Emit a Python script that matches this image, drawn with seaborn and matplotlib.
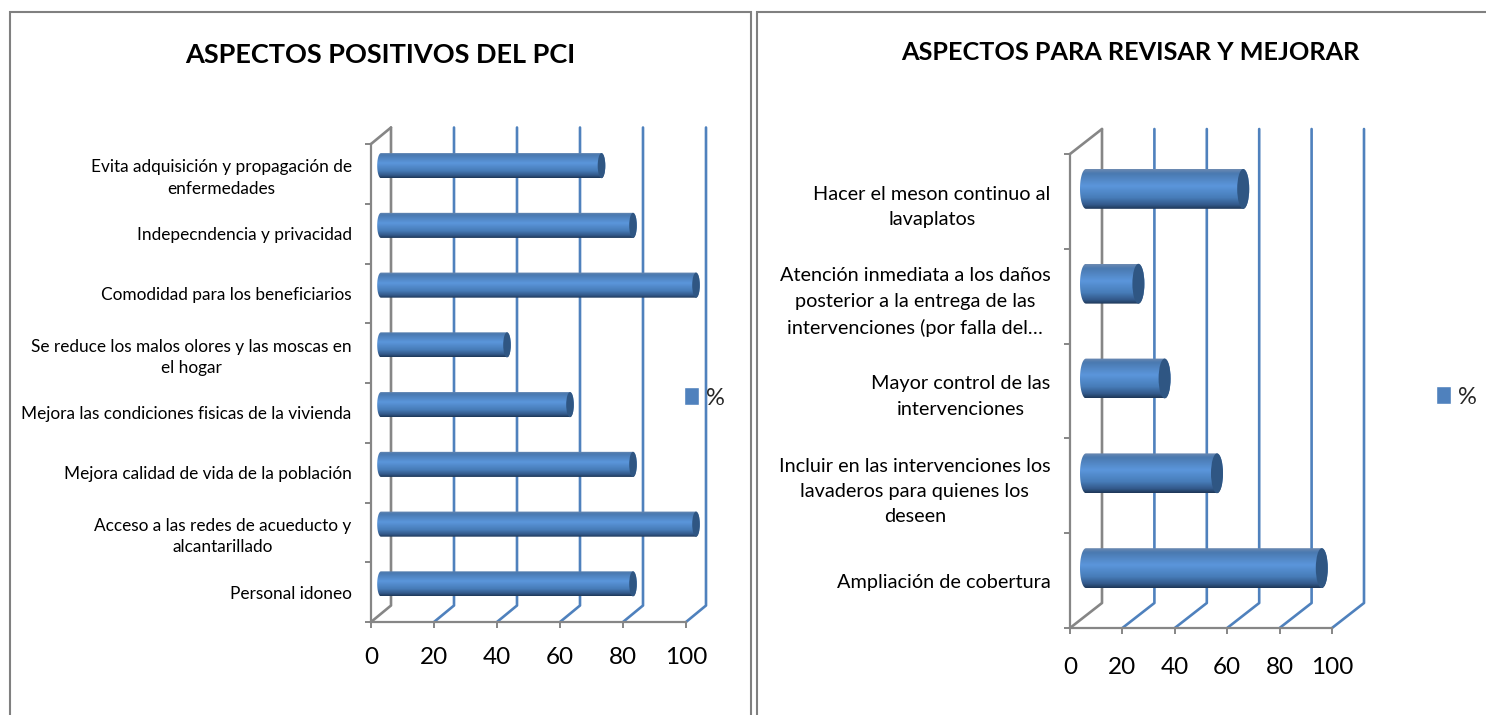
import numpy as np
import matplotlib
matplotlib.use("Agg")
import matplotlib.pyplot as plt
import seaborn as sns
from matplotlib.colors import LinearSegmentedColormap
from matplotlib.patches import Ellipse, Rectangle
from matplotlib.path import Path
from matplotlib.lines import Line2D
from matplotlib.transforms import Affine2D, IdentityTransform

left_title = "ASPECTOS POSITIVOS DEL PCI"
left_categories = [
    "Evita adquisición y propagación de\nenfermedades",
    "Indepecndencia y privacidad",
    "Comodidad para los beneficiarios",
    "Se reduce los malos olores y las moscas en\nel hogar",
    "Mejora las condiciones fisicas de la vivienda",
    "Mejora calidad de vida de la población",
    "Acceso a las redes de acueducto y\nalcantarillado",
    "Personal idoneo",
]
left_values = [70, 80, 100, 40, 60, 80, 100, 80]

right_title = "ASPECTOS PARA REVISAR Y MEJORAR"
right_categories = [
    "Hacer el meson continuo al\nlavaplatos",
    "Atención inmediata a los daños\nposterior a la entrega de las\nintervenciones (por falla del…",
    "Mayor control de las\nintervenciones",
    "Incluir en las intervenciones los\nlavaderos para quienes los\ndeseen",
    "Ampliación de cobertura",
]
right_values = [60, 20, 30, 50, 90]
x_ticks = [0, 20, 40, 60, 80, 100]
series_name = "%"

W, H = 1486, 715
BLUE = "#4F81BD"
GREY = "#868686"
DARK = "#2F5683"
sns.set_theme(style="white")
plt.rcParams["font.family"] = ["Lato", "DejaVu Sans"]
fig = plt.figure(figsize=(W / 100, H / 100), dpi=100, facecolor="white")

cyl = LinearSegmentedColormap.from_list(
    "cyl",
    [(0, "#6C8AB2"), (0.1, "#4A79B0"), (0.42, "#5B96DB"), (0.72, "#477CB8"),
     (0.9, "#33598A"), (1, "#1E3859")],
)


def panel(box, cats, vals, title, title_xy, title_size, label_size, depth, cap,
          legend_xy, pad, line_gap, tick_pad):
    x0, y0, x1, y1 = box
    ax = fig.add_axes([x0 / W, 1 - y1 / H, (x1 - x0) / W, (y1 - y0) / H])
    ax.set_zorder(3)
    sns.barplot(x=vals, y=cats, orient="h", color=BLUE, saturation=1, width=0.42,
                ax=ax, label=series_name, zorder=5)
    n = len(cats)
    ax.set_xlim(0, 100)
    ax.set_ylim(n - 0.5, -0.5)
    ax.set_xlabel("")
    ax.set_ylabel("")
    ax.patch.set_alpha(0)

    # legend is taken from the bars before they are replaced by cylinders
    ax.legend(loc="center left", bbox_to_anchor=(legend_xy[0] / W, 1 - legend_xy[1] / H),
              bbox_transform=fig.transFigure, frameon=False, fontsize=17,
              handlelength=0.62, handleheight=0.8, handletextpad=0.3,
              borderpad=0, borderaxespad=0)

    for s in ("top", "right"):
        ax.spines[s].set_visible(False)
    for s in ("left", "bottom"):
        ax.spines[s].set_color(GREY)
        ax.spines[s].set_linewidth(1.6)

    ax.set_xticks(x_ticks)
    ax.tick_params(axis="x", length=4, width=1.4, color=GREY, labelsize=17.5, pad=tick_pad,
                   labelcolor="black", bottom=True)
    ax.set_yticks(range(n), cats)
    ax.tick_params(axis="y", which="major", length=0, pad=pad, labelsize=label_size,
                   labelcolor="black")
    for t in ax.get_yticklabels():
        t.set_multialignment("center")
        t.set_linespacing(line_gap)
    ax.set_yticks(np.arange(n + 1) - 0.5, minor=True)
    ax.tick_params(axis="y", which="minor", length=4, width=1.4, color=GREY, left=True)

    # back wall: gridlines shifted by the chart's depth, joined to the floor
    dx, dy = depth
    for v in x_ticks:
        color = GREY if v == 0 else BLUE
        fx, fy = ax.transData.transform((v, n - 0.5))
        _, ty = ax.transData.transform((v, -0.5))
        fig.add_artist(Line2D([fx, fx + dx, fx + dx], [fy, fy + dy, ty + dy],
                              transform=IdentityTransform(), color=color, lw=1.9, zorder=1))
    fx, fy = ax.transData.transform((0, -0.5))
    fig.add_artist(Line2D([fx, fx + dx], [fy, fy + dy], transform=IdentityTransform(),
                          color=GREY, lw=1.9, zorder=1))

    # cylinders built from the bars seaborn placed
    shift = ax.transData + Affine2D().translate(dx / 2, dy / 2)
    units = (x1 - x0) / 100
    capx = cap / units
    grad = np.linspace(0, 1, 64).reshape(-1, 1)
    for p in list(ax.patches):
        b0, b1 = p.get_x(), p.get_x() + p.get_width()
        yt, yb = sorted((p.get_y(), p.get_y() + p.get_height()))
        yc, r = (yt + yb) / 2, (yb - yt) / 2
        p.set_visible(False)
        th = np.linspace(np.pi / 2, -np.pi / 2, 40)
        right = np.column_stack([b1 + capx * np.cos(th), yc - r * np.sin(th)])
        left = np.column_stack([b0 - capx * np.cos(th), yc + r * np.sin(th)])
        outline = Path(np.vstack([left, right, left[:1]]))
        im = ax.imshow(grad, cmap=cyl, vmin=0, vmax=1, aspect="auto", origin="upper",
                       extent=(b0 - capx, b1 + capx, yb, yt), zorder=5,
                       interpolation="bilinear")
        im.set_transform(shift)
        im.set_clip_box(fig.bbox)
        im.set_clip_path(outline, shift)
        ax.add_patch(Ellipse((b1, yc), 2 * capx, 2 * r, facecolor=DARK, edgecolor="none",
                             transform=shift, zorder=6, clip_on=False))
    ax.set_xlim(0, 100)
    ax.set_ylim(n - 0.5, -0.5)

    fig.text(title_xy[0] / W, 1 - title_xy[1] / H, title, ha="center", va="center",
             fontsize=title_size, fontweight="bold", color="black")
    return ax


# panel frames, running off the bottom of the picture
for fx0, fx1 in ((9.5, 751), (757, 1500)):
    fig.add_artist(Rectangle((fx0 / W, -0.1), (fx1 - fx0) / W, 1.1 - 11.5 / H,
                             transform=fig.transFigure, fill=False, edgecolor="#808080",
                             lw=1.5))

panel((371, 144, 686, 622), left_categories, left_values, left_title, (380, 55), 19.5,
      12.4, (20, 16.5), 3.8, (684, 398), 14, 1.42, 14)
panel((1070, 154, 1332, 628), right_categories, right_values, right_title, (1130, 52), 18.2,
      14.3, (32, 25), 6, (1436, 397), 14, 1.6, 17)

fig.savefig("out.png", dpi=100, facecolor="white")
